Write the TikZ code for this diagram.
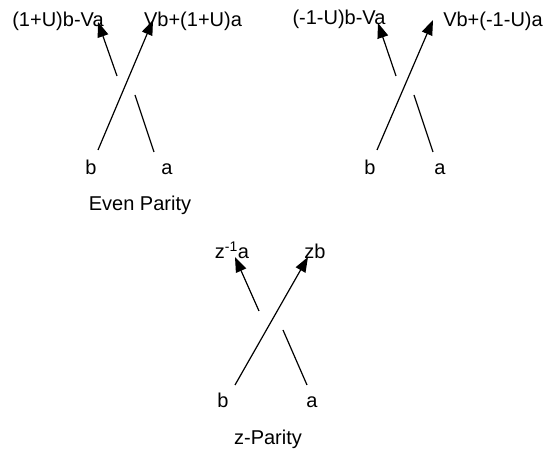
\documentclass[tikz,border=0pt]{standalone}
\usepackage{fontspec}
\setmainfont{Liberation Sans}
\usetikzlibrary{arrows.meta}
\begin{document}
\begin{tikzpicture}[x=1pt,y=-1pt,
  lbl/.style={font=\fontsize{20}{24}\selectfont, inner sep=0pt, anchor=base},
  strand/.style={line width=1.2pt},
  arr/.style={strand,-{Triangle[length=15pt,width=11pt]}}]
\useasboundingbox (0,0) rectangle (547,454);
% diagram 1
\coordinate (b1) at (98,150);
\coordinate (t1) at (153,20);
\coordinate (s1) at (117,76);
\coordinate (u1) at (98,22);
\coordinate (r1) at (135,95);
\coordinate (a1) at (154,152);
\draw[arr] (b1) -- (t1);
\draw[arr] (s1) -- (u1);
\draw[strand] (r1) -- (a1);
\node[lbl] (lb1) at (91,175) {b};
\node[lbl] (la1) at (167,175) {a};
\node[lbl] (tl1) at (58,27) {(1+U)b-Va};
\node[lbl] (tr1) at (193,27) {Vb+(1+U)a};
\node[lbl] (cap1) at (140,211) {Even Parity};
% diagram 2
\coordinate (b2) at (377,150);
\coordinate (t2) at (433,20);
\coordinate (s2) at (396,76);
\coordinate (u2) at (378,23);
\coordinate (r2) at (414,95);
\coordinate (a2) at (433,152);
\draw[arr] (b2) -- (t2);
\draw[arr] (s2) -- (u2);
\draw[strand] (r2) -- (a2);
\node[lbl] (lb2) at (370,175) {b};
\node[lbl] (la2) at (440,175) {a};
\node[lbl] (tl2) at (339,25) {(-1-U)b-Va};
\node[lbl] (tr2) at (493,27) {Vb+(-1-U)a};
% diagram 3
\coordinate (b3) at (235,385);
\coordinate (t3) at (308,257);
\coordinate (s3) at (259,311);
\coordinate (u3) at (235,257);
\coordinate (r3) at (283,330);
\coordinate (a3) at (307,385);
\draw[arr] (b3) -- (t3);
\draw[arr] (s3) -- (u3);
\draw[strand] (r3) -- (a3);
\node[lbl] (lb3) at (223,408) {b};
\node[lbl] (la3) at (312,408) {a};
\node[lbl] (tl3) at (232,259) {z\textsuperscript{-1}a};
\node[lbl] (tr3) at (315,259) {zb};
\node[lbl] (cap3) at (268,445) {z-Parity};
\end{tikzpicture}
\end{document}
